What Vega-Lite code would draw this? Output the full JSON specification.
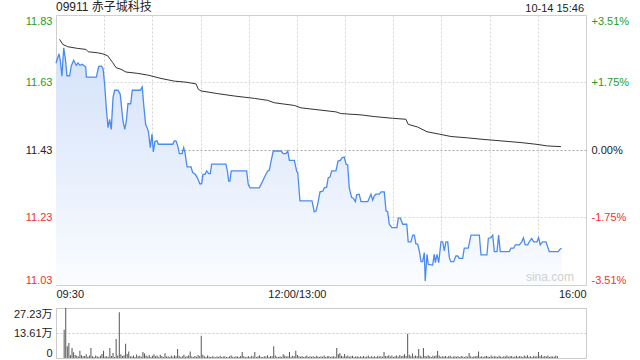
{
  "$schema": "https://vega.github.io/schema/vega-lite/v6.json",
  "background": "white",
  "padding": {"left": 0, "right": 0, "top": 0, "bottom": 5},
  "config": {
    "font": "Liberation Sans",
    "view": {"stroke": "#cccccc"},
    "axis": {"labelFont": "Liberation Sans", "labelFontSize": 11, "labelColor": "#222222"}
  },
  "spacing": 5,
  "datasets": {
    "price": [
      {"t":0,"p":11.687},{"t":1.9,"p":11.715},{"t":2.7,"p":11.694},{"t":3.7,"p":11.649},{"t":4.8,"p":11.733},{"t":6,"p":11.694},{"t":6.8,"p":11.65},{"t":8.5,"p":11.65},{"t":9.5,"p":11.679},{"t":11,"p":11.696},{"t":12.6,"p":11.681},{"t":13.7,"p":11.688},{"t":14.8,"p":11.681},{"t":16.4,"p":11.684},{"t":18.5,"p":11.676},{"t":18.9,"p":11.646},{"t":25.1,"p":11.646},{"t":26.6,"p":11.677},{"t":28.2,"p":11.679},{"t":29.3,"p":11.671},{"t":30.3,"p":11.625},{"t":31.3,"p":11.555},{"t":32.4,"p":11.496},{"t":33.4,"p":11.521},{"t":34.4,"p":11.491},{"t":35.5,"p":11.585},{"t":36.5,"p":11.607},{"t":38.6,"p":11.607},{"t":40,"p":11.595},{"t":41.7,"p":11.516},{"t":42.8,"p":11.491},{"t":43.8,"p":11.516},{"t":44.8,"p":11.567},{"t":46.5,"p":11.567},{"t":47.5,"p":11.607},{"t":52.5,"p":11.607},{"t":53.7,"p":11.617},{"t":54.6,"p":11.565},{"t":55.8,"p":11.506},{"t":57.5,"p":11.486},{"t":58.7,"p":11.437},{"t":59.8,"p":11.477},{"t":60.6,"p":11.424},{"t":61.6,"p":11.455},{"t":62.9,"p":11.457},{"t":63.7,"p":11.447},{"t":72.7,"p":11.447},{"t":73.7,"p":11.457},{"t":74.7,"p":11.457},{"t":75.8,"p":11.442},{"t":76.8,"p":11.419},{"t":78.5,"p":11.419},{"t":79.5,"p":11.437},{"t":80.3,"p":11.422},{"t":81.6,"p":11.38},{"t":84.1,"p":11.38},{"t":85.1,"p":11.363},{"t":86.7,"p":11.358},{"t":88.2,"p":11.346},{"t":89.5,"p":11.33},{"t":90.7,"p":11.33},{"t":91.5,"p":11.358},{"t":92.8,"p":11.358},{"t":93.8,"p":11.368},{"t":95.1,"p":11.36},{"t":96.1,"p":11.36},{"t":96.9,"p":11.388},{"t":105.8,"p":11.388},{"t":106.9,"p":11.363},{"t":107.5,"p":11.338},{"t":108.3,"p":11.338},{"t":109.1,"p":11.368},{"t":118.7,"p":11.368},{"t":119.7,"p":11.328},{"t":120.8,"p":11.318},{"t":126.6,"p":11.318},{"t":128.7,"p":11.338},{"t":130.7,"p":11.358},{"t":131.8,"p":11.368},{"t":132.8,"p":11.37},{"t":133.9,"p":11.397},{"t":135.3,"p":11.427},{"t":140.1,"p":11.427},{"t":141.5,"p":11.419},{"t":143.2,"p":11.419},{"t":144.3,"p":11.427},{"t":145.3,"p":11.399},{"t":148.4,"p":11.399},{"t":149.9,"p":11.366},{"t":150.5,"p":11.364},{"t":151.9,"p":11.279},{"t":159.4,"p":11.279},{"t":160.8,"p":11.247},{"t":161.9,"p":11.249},{"t":162.9,"p":11.269},{"t":164.4,"p":11.306},{"t":166.1,"p":11.308},{"t":167.1,"p":11.318},{"t":168.5,"p":11.32},{"t":169.5,"p":11.348},{"t":170.6,"p":11.35},{"t":171.7,"p":11.368},{"t":174.3,"p":11.368},{"t":175.6,"p":11.397},{"t":177,"p":11.399},{"t":178.1,"p":11.407},{"t":179.5,"p":11.409},{"t":180.6,"p":11.388},{"t":181.6,"p":11.386},{"t":182.6,"p":11.318},{"t":184.1,"p":11.289},{"t":185.1,"p":11.287},{"t":186.4,"p":11.277},{"t":187.2,"p":11.297},{"t":188.8,"p":11.299},{"t":189.9,"p":11.277},{"t":194.1,"p":11.277},{"t":196.1,"p":11.299},{"t":197.2,"p":11.281},{"t":198.2,"p":11.294},{"t":199.2,"p":11.299},{"t":201.3,"p":11.299},{"t":202.4,"p":11.306},{"t":204.4,"p":11.306},{"t":205.5,"p":11.249},{"t":206.5,"p":11.247},{"t":207.5,"p":11.21},{"t":209.2,"p":11.2},{"t":212.3,"p":11.2},{"t":213.1,"p":11.228},{"t":214.4,"p":11.228},{"t":215.9,"p":11.21},{"t":218.4,"p":11.21},{"t":219.3,"p":11.158},{"t":221,"p":11.158},{"t":222.1,"p":11.178},{"t":223.1,"p":11.178},{"t":224.1,"p":11.152},{"t":225.2,"p":11.151},{"t":226.2,"p":11.131},{"t":227.3,"p":11.099},{"t":228.3,"p":11.099},{"t":229.3,"p":11.126},{"t":229.9,"p":11.042},{"t":231,"p":11.121},{"t":231.8,"p":11.091},{"t":234.5,"p":11.089},{"t":235.5,"p":11.121},{"t":236.2,"p":11.096},{"t":237.2,"p":11.121},{"t":238.3,"p":11.096},{"t":239.7,"p":11.158},{"t":240.8,"p":11.158},{"t":241.8,"p":11.131},{"t":242.8,"p":11.158},{"t":243.9,"p":11.158},{"t":244.9,"p":11.111},{"t":245.9,"p":11.099},{"t":247.6,"p":11.099},{"t":249,"p":11.116},{"t":250.1,"p":11.116},{"t":251.1,"p":11.109},{"t":253.2,"p":11.109},{"t":254.2,"p":11.139},{"t":256.7,"p":11.139},{"t":258.4,"p":11.178},{"t":263.6,"p":11.178},{"t":264.6,"p":11.119},{"t":268.3,"p":11.119},{"t":269.2,"p":11.168},{"t":270.8,"p":11.17},{"t":271.9,"p":11.178},{"t":272.9,"p":11.129},{"t":274.6,"p":11.129},{"t":275.6,"p":11.178},{"t":276.6,"p":11.129},{"t":282.2,"p":11.129},{"t":283.3,"p":11.139},{"t":285,"p":11.139},{"t":286,"p":11.149},{"t":288.5,"p":11.149},{"t":290,"p":11.158},{"t":291,"p":11.17},{"t":292.2,"p":11.149},{"t":293.7,"p":11.149},{"t":294.7,"p":11.158},{"t":296.2,"p":11.168},{"t":297.4,"p":11.158},{"t":299.5,"p":11.158},{"t":300.5,"p":11.17},{"t":301.5,"p":11.149},{"t":303,"p":11.158},{"t":305.1,"p":11.158},{"t":307.1,"p":11.129},{"t":312.7,"p":11.129},{"t":313.8,"p":11.136},{"t":314.9,"p":11.139}
    ],
    "avg": [
      {"t":2.2,"a":11.758},{"t":4.2,"a":11.743},{"t":7.3,"a":11.736},{"t":13.5,"a":11.731},{"t":18.7,"a":11.728},{"t":20.1,"a":11.721},{"t":26,"a":11.718},{"t":29.1,"a":11.715},{"t":32.2,"a":11.709},{"t":35.3,"a":11.689},{"t":37.4,"a":11.674},{"t":40.5,"a":11.669},{"t":43.6,"a":11.661},{"t":50.9,"a":11.657},{"t":57.1,"a":11.652},{"t":65.4,"a":11.642},{"t":73.7,"a":11.634},{"t":80.9,"a":11.631},{"t":87.2,"a":11.626},{"t":88.6,"a":11.61},{"t":90.3,"a":11.605},{"t":100.7,"a":11.597},{"t":111,"a":11.59},{"t":123.5,"a":11.583},{"t":131.8,"a":11.577},{"t":135.9,"a":11.57},{"t":148.4,"a":11.562},{"t":152.5,"a":11.555},{"t":165,"a":11.548},{"t":174.3,"a":11.543},{"t":177.4,"a":11.538},{"t":189.9,"a":11.534},{"t":198.2,"a":11.529},{"t":209.6,"a":11.524},{"t":217.9,"a":11.521},{"t":219.3,"a":11.506},{"t":225.2,"a":11.498},{"t":231,"a":11.484},{"t":238.6,"a":11.477},{"t":245.9,"a":11.47},{"t":256.3,"a":11.466},{"t":264.6,"a":11.462},{"t":277.1,"a":11.457},{"t":289.5,"a":11.452},{"t":298.9,"a":11.447},{"t":306.1,"a":11.442},{"t":314.4,"a":11.44}
    ],
    "vol": [
      {"t":2,"v":15.4},{"t":3,"v":27.2},{"t":4,"v":6.4},{"t":5,"v":8.2},{"t":6,"v":1.5},{"t":7,"v":5.4},{"t":8,"v":3.1},{"t":9,"v":1.6},
      {"t":10,"v":1.2},{"t":11,"v":0.8},{"t":12,"v":4.0},{"t":13,"v":1.5},{"t":14,"v":0.9},{"t":15,"v":1.1},{"t":16,"v":2.0},{"t":17,"v":0.7},{"t":18,"v":1.3},{"t":19,"v":5.4},
      {"t":20,"v":1.0},{"t":21,"v":0.6},{"t":22,"v":1.4},{"t":23,"v":0.9},{"t":24,"v":0.5},{"t":25,"v":1.2},{"t":26,"v":2.2},{"t":27,"v":4.0},{"t":28,"v":0.8},{"t":29,"v":1.0},
      {"t":30,"v":0.7},{"t":31,"v":5.4},{"t":32,"v":1.1},{"t":33,"v":2.7},{"t":34,"v":0.6},{"t":35,"v":10.3},{"t":36,"v":1.4},{"t":37,"v":24.9},{"t":38,"v":2.0},{"t":39,"v":1.1},
      {"t":40,"v":1.5},{"t":41,"v":7.8},{"t":42,"v":2.2},{"t":43,"v":3.6},{"t":44,"v":1.0},{"t":45,"v":0.8},{"t":46,"v":1.3},{"t":47,"v":0.6},{"t":48,"v":1.9},{"t":49,"v":0.9},
      {"t":50,"v":1.2},{"t":51,"v":0.7},{"t":52,"v":3.3},{"t":53,"v":2.5},{"t":54,"v":1.4},{"t":55,"v":0.8},{"t":56,"v":1.7},{"t":57,"v":0.5},{"t":58,"v":1.2},{"t":59,"v":2.1},
      {"t":60,"v":0.9},{"t":61,"v":1.4},{"t":62,"v":0.6},{"t":63,"v":1.8},{"t":64,"v":1.1},{"t":65,"v":0.5},{"t":66,"v":2.6},{"t":67,"v":0.8},{"t":68,"v":1.0},{"t":69,"v":0.6},
      {"t":70,"v":1.3},{"t":71,"v":0.7},{"t":72,"v":1.5},{"t":73,"v":0.9},{"t":74,"v":4.9},{"t":75,"v":1.2},{"t":76,"v":0.6},{"t":77,"v":1.0},{"t":78,"v":1.8},{"t":79,"v":0.7},
      {"t":80,"v":0.9},{"t":81,"v":1.4},{"t":82,"v":3.6},{"t":83,"v":0.8},{"t":84,"v":0.5},{"t":85,"v":1.1},{"t":86,"v":0.7},{"t":87,"v":1.6},{"t":88,"v":0.9},{"t":89,"v":12.1},
      {"t":90,"v":1.8},{"t":91,"v":1.0},{"t":92,"v":0.6},{"t":93,"v":1.3},{"t":94,"v":0.8},{"t":95,"v":0.5},{"t":96,"v":1.0},{"t":97,"v":0.7},{"t":98,"v":0.4},{"t":99,"v":0.9},
      {"t":100,"v":0.6},{"t":101,"v":1.2},{"t":102,"v":0.5},{"t":103,"v":0.8},{"t":104,"v":1.0},{"t":105,"v":0.6},{"t":106,"v":0.4},{"t":107,"v":0.9},{"t":108,"v":1.4},{"t":109,"v":0.7},
      {"t":110,"v":0.5},{"t":111,"v":1.0},{"t":112,"v":0.8},{"t":113,"v":0.6},{"t":114,"v":1.1},{"t":115,"v":3.3},{"t":116,"v":0.9},{"t":117,"v":0.5},{"t":118,"v":0.7},{"t":119,"v":1.0},
      {"t":120,"v":0.6},{"t":121,"v":1.2},{"t":122,"v":0.8},{"t":123,"v":3.3},{"t":124,"v":0.5},{"t":125,"v":0.9},{"t":126,"v":1.4},{"t":127,"v":0.7},{"t":128,"v":0.6},{"t":129,"v":1.0},
      {"t":130,"v":0.8},{"t":131,"v":1.5},{"t":132,"v":0.6},{"t":133,"v":1.1},{"t":134,"v":0.9},{"t":135,"v":6.4},{"t":136,"v":1.3},{"t":137,"v":0.7},{"t":138,"v":0.5},{"t":139,"v":1.0},
      {"t":140,"v":0.6},{"t":141,"v":2.0},{"t":142,"v":1.3},{"t":143,"v":0.8},{"t":144,"v":1.0},{"t":145,"v":3.3},{"t":146,"v":0.7},{"t":147,"v":1.2},{"t":148,"v":0.9},{"t":149,"v":4.0},
      {"t":150,"v":1.6},{"t":151,"v":0.9},{"t":152,"v":0.7},{"t":153,"v":1.1},{"t":154,"v":0.5},{"t":155,"v":0.8},{"t":156,"v":1.3},{"t":157,"v":0.6},{"t":158,"v":1.0},{"t":159,"v":0.7},
      {"t":160,"v":0.9},{"t":161,"v":0.5},{"t":162,"v":1.2},{"t":163,"v":0.8},{"t":164,"v":0.6},{"t":165,"v":1.0},{"t":166,"v":0.7},{"t":167,"v":1.4},{"t":168,"v":0.5},{"t":169,"v":0.9},
      {"t":170,"v":1.1},{"t":171,"v":0.6},{"t":172,"v":0.8},{"t":173,"v":1.0},{"t":174,"v":0.7},{"t":175,"v":5.4},{"t":176,"v":2.1},{"t":177,"v":2.7},{"t":178,"v":1.2},{"t":179,"v":0.8},
      {"t":180,"v":2.2},{"t":181,"v":1.0},{"t":182,"v":1.4},{"t":183,"v":0.7},{"t":184,"v":0.9},{"t":185,"v":1.2},{"t":186,"v":0.6},{"t":187,"v":0.8},{"t":188,"v":1.0},{"t":189,"v":0.5},
      {"t":190,"v":0.9},{"t":191,"v":0.7},{"t":192,"v":1.1},{"t":193,"v":0.6},{"t":194,"v":0.8},{"t":195,"v":1.3},{"t":196,"v":0.5},{"t":197,"v":0.9},{"t":198,"v":0.7},{"t":199,"v":1.0},
      {"t":200,"v":0.6},{"t":201,"v":1.2},{"t":202,"v":0.8},{"t":203,"v":1.0},{"t":204,"v":0.7},{"t":205,"v":3.3},{"t":206,"v":1.1},{"t":207,"v":0.9},{"t":208,"v":1.5},{"t":209,"v":0.8},
      {"t":210,"v":1.4},{"t":211,"v":0.6},{"t":212,"v":1.0},{"t":213,"v":1.3},{"t":214,"v":0.7},{"t":215,"v":1.6},{"t":216,"v":0.9},{"t":217,"v":1.2},{"t":218,"v":2.0},{"t":219,"v":1.1},
      {"t":220,"v":13.2},{"t":221,"v":1.8},{"t":222,"v":1.0},{"t":223,"v":2.4},{"t":224,"v":0.8},{"t":225,"v":1.3},{"t":226,"v":1.0},{"t":227,"v":4.9},{"t":228,"v":1.2},{"t":229,"v":0.7},
      {"t":230,"v":5.4},{"t":231,"v":1.1},{"t":232,"v":0.8},{"t":233,"v":1.5},{"t":234,"v":1.0},{"t":235,"v":0.6},{"t":236,"v":1.2},{"t":237,"v":0.9},{"t":238,"v":1.4},{"t":239,"v":3.8},
      {"t":240,"v":1.3},{"t":241,"v":0.7},{"t":242,"v":1.0},{"t":243,"v":0.8},{"t":244,"v":1.1},{"t":245,"v":0.6},{"t":246,"v":0.9},{"t":247,"v":1.2},{"t":248,"v":0.5},{"t":249,"v":0.8},
      {"t":250,"v":1.0},{"t":251,"v":0.7},{"t":252,"v":0.9},{"t":253,"v":0.6},{"t":254,"v":1.1},{"t":255,"v":0.8},{"t":256,"v":0.5},{"t":257,"v":1.0},{"t":258,"v":0.7},{"t":259,"v":2.7},
      {"t":260,"v":0.9},{"t":261,"v":0.6},{"t":262,"v":1.0},{"t":263,"v":0.8},{"t":264,"v":1.2},{"t":265,"v":3.6},{"t":266,"v":0.7},{"t":267,"v":1.0},{"t":268,"v":0.6},{"t":269,"v":0.9},
      {"t":270,"v":1.1},{"t":271,"v":0.8},{"t":272,"v":0.6},{"t":273,"v":1.3},{"t":274,"v":0.7},{"t":275,"v":1.0},{"t":276,"v":0.9},{"t":277,"v":0.5},{"t":278,"v":1.2},{"t":279,"v":0.8},
      {"t":280,"v":0.6},{"t":281,"v":1.0},{"t":282,"v":0.8},{"t":283,"v":1.4},{"t":284,"v":0.7},{"t":285,"v":0.9},{"t":286,"v":1.1},{"t":287,"v":0.6},{"t":288,"v":0.8},{"t":289,"v":1.2},
      {"t":290,"v":0.7},{"t":291,"v":1.0},{"t":292,"v":0.9},{"t":293,"v":0.6},{"t":294,"v":1.3},{"t":295,"v":0.8},{"t":296,"v":1.5},{"t":297,"v":0.7},{"t":298,"v":1.0},{"t":299,"v":0.6},
      {"t":300,"v":1.2},{"t":301,"v":0.8},{"t":302,"v":1.0},{"t":303,"v":3.3},{"t":304,"v":0.9},{"t":305,"v":1.6},{"t":306,"v":0.7},{"t":307,"v":1.1},{"t":308,"v":0.8},{"t":309,"v":1.3},
      {"t":310,"v":0.6},{"t":311,"v":1.0},{"t":312,"v":0.8},{"t":313,"v":0.7},{"t":314,"v":1.2},{"t":315,"v":0.9}
    ]
  },
  "vconcat": [
    {
      "width": 530,
      "height": 270,
      "encoding": {
        "x": {
          "field": "t", "type": "quantitative",
          "scale": {"domain": [0, 330], "nice": false, "zero": false},
          "axis": {
            "values": [0, 30, 60, 90, 120, 150, 180, 210, 240, 270, 300, 330],
            "labelExpr": "datum.value == 0 ? '09:30' : datum.value == 150 ? '12:00/13:00' : datum.value == 330 ? '16:00' : ''",
            "labelFlush": true, "labelOverlap": false,
            "grid": true, "gridDash": [2, 2], "gridColor": "#d4d4d4",
            "ticks": false, "domain": false, "title": null,
            "labelPadding": 3, "minExtent": 16, "maxExtent": 16
          }
        }
      },
      "layer": [
        {
          "data": {"name": "price"},
          "mark": {"type": "area", "fill": {"gradient": "linear", "x1": 0, "y1": 0, "x2": 0, "y2": 1, "stops": [{"offset": 0, "color": "#d4e2fa"}, {"offset": 1, "color": "#fafcff"}]}},
          "encoding": {
            "y": {
              "field": "p", "type": "quantitative",
              "scale": {"domain": [11.03, 11.83], "nice": false, "zero": false},
              "axis": {
                "values": [11.03, 11.23, 11.43, 11.63, 11.83], "format": ".2f",
                "labelFlush": true,
                "grid": true, "gridDash": [2, 2],
                "gridColor": {"condition": {"test": "abs(datum.value - 11.43) < 0.001", "value": "#aaaaaa"}, "value": "#d4d4d4"},
                "labelColor": {"condition": [{"test": "datum.value > 11.44", "value": "#1e9e1e"}, {"test": "datum.value < 11.42", "value": "#f03232"}], "value": "#222222"},
                "ticks": false, "domain": false, "title": null,
                "labelPadding": 4, "minExtent": 55, "maxExtent": 55
              }
            },
            "y2": {"datum": 11.03}
          }
        },
        {
          "data": {"name": "price"},
          "mark": {"type": "line", "color": "#4b8bef", "strokeWidth": 1.3},
          "encoding": {
            "y": {
              "field": "p", "type": "quantitative",
              "axis": {
                "orient": "right",
                "values": [11.03, 11.23, 11.43, 11.63, 11.83],
                "labelExpr": "datum.value > 11.8 ? '+3.51%' : datum.value > 11.6 ? '+1.75%' : datum.value > 11.4 ? '0.00%' : datum.value > 11.2 ? '-1.75%' : '-3.51%'",
                "labelFlush": true,
                "grid": false,
                "labelColor": {"condition": [{"test": "datum.value > 11.44", "value": "#1e9e1e"}, {"test": "datum.value < 11.42", "value": "#f03232"}], "value": "#222222"},
                "ticks": false, "domain": false, "title": null,
                "labelPadding": 5, "minExtent": 55, "maxExtent": 55
              }
            }
          }
        },
        {
          "data": {"name": "avg"},
          "mark": {"type": "line", "color": "#333333", "strokeWidth": 1},
          "encoding": {
            "y": {"field": "a", "type": "quantitative", "axis": null}
          }
        },
        {
          "data": {"values": [{"t": 0, "p": 11.83, "s": "09911 赤子城科技"}]},
          "mark": {"type": "text", "align": "left", "baseline": "bottom", "dy": -1, "fontSize": 12, "color": "#222222", "font": "Liberation Sans, Noto Sans CJK SC"},
          "encoding": {
            "y": {"field": "p", "type": "quantitative", "axis": null},
            "text": {"field": "s"}
          }
        },
        {
          "data": {"values": [{"t": 330, "p": 11.83, "s": "10-14 15:46"}]},
          "mark": {"type": "text", "align": "right", "baseline": "bottom", "dx": -2, "dy": -1, "fontSize": 11, "color": "#222222"},
          "encoding": {
            "y": {"field": "p", "type": "quantitative", "axis": null},
            "text": {"field": "s"}
          }
        },
        {
          "data": {"values": [{"t": 322.5, "p": 11.03, "s": "sina.com"}]},
          "mark": {"type": "text", "align": "right", "baseline": "bottom", "dy": -1, "fontSize": 12, "color": "#d0d0d0"},
          "encoding": {
            "y": {"field": "p", "type": "quantitative", "axis": null},
            "text": {"field": "s"}
          }
        }
      ],
      "resolve": {"axis": {"y": "independent"}}
    },
    {
      "width": 530,
      "height": 50,
      "data": {"name": "vol"},
      "mark": {"type": "bar", "size": 1, "color": "#555555"},
      "encoding": {
        "x": {"field": "t", "type": "quantitative", "scale": {"domain": [0, 330], "nice": false, "zero": false}, "axis": null},
        "y": {
          "field": "v", "type": "quantitative",
          "scale": {"domain": [0, 27.23], "nice": false},
          "axis": {
            "values": [0, 13.61, 27.23],
            "labelExpr": "datum.value == 0 ? '0' : format(datum.value, '.2f') + '万'",
            "labelFlush": true,
            "grid": true, "gridDash": [2, 2], "gridColor": "#c8c8c8",
            "ticks": false, "domain": false, "title": null,
            "labelPadding": 4, "minExtent": 55, "maxExtent": 55,
            "labelFont": "Liberation Sans, Noto Sans CJK SC"
          }
        }
      }
    }
  ]
}
